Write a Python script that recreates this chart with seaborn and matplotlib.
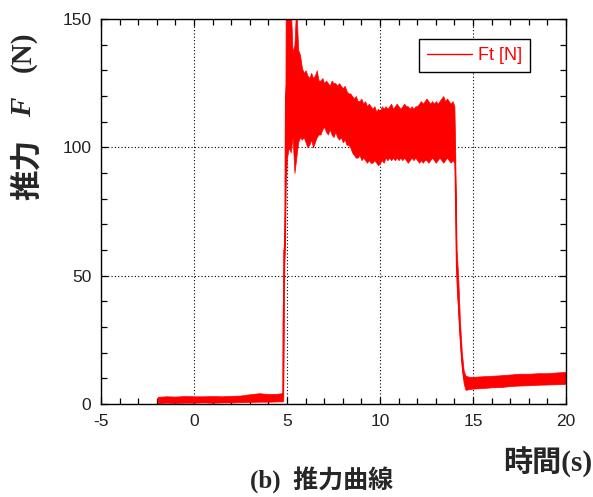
import numpy as np
import pandas as pd
import seaborn as sns
import matplotlib.pyplot as plt
from matplotlib.ticker import MultipleLocator

# Thrust record: time (s) with the low / high envelope of the measured force (N)
time_s = [
    -1.95, -1.5, -1.0, -0.5, 0.0, 0.5, 1.0, 1.5, 2.0, 2.5, 3.0, 3.5, 4.0, 4.5, 4.78,
    4.80, 4.86, 4.90, 4.93, 5.00, 5.10, 5.20, 5.30, 5.40, 5.50, 5.60, 5.70, 5.80, 5.90,
    6.0, 6.1, 6.2, 6.3, 6.4, 6.5, 6.6, 6.7, 6.8, 6.9,
    7.0, 7.1, 7.2, 7.3, 7.4, 7.5, 7.6, 7.7, 7.8, 7.9,
    8.0, 8.1, 8.2, 8.3, 8.4, 8.5, 8.6, 8.7, 8.8, 8.9,
    9.0, 9.1, 9.2, 9.3, 9.4, 9.5, 9.6, 9.7, 9.8, 9.9,
    10.0, 10.1, 10.2, 10.3, 10.4, 10.5, 10.6, 10.7, 10.8, 10.9,
    11.0, 11.1, 11.2, 11.3, 11.4, 11.5, 11.6, 11.7, 11.8, 11.9,
    12.0, 12.1, 12.2, 12.3, 12.4, 12.5, 12.6, 12.7, 12.8, 12.9,
    13.0, 13.1, 13.2, 13.3, 13.4, 13.5, 13.6, 13.7, 13.8, 13.9,
    14.00, 14.04, 14.08, 14.12, 14.20, 14.30, 14.40, 14.50, 14.60, 14.8,
    15.0, 15.5, 16.0, 16.5, 17.0, 17.5, 18.0, 18.5, 19.0, 19.5, 20.0,
]
thrust_low = [
    0.3, 0.5, 0.4, 0.5, 0.5, 0.6, 0.5, 0.6, 0.6, 0.7, 0.8, 0.9, 0.9, 1.0, 1.0,
    2, 55, 62, 84, 96, 100, 98, 104, 90, 96, 102, 104, 103, 104,
    102, 100, 101, 103, 100, 102, 104, 105, 105, 107,
    108, 106, 105, 107, 105, 104, 106, 104, 103, 104,
    102, 103, 101, 101, 100, 98, 97, 96, 96, 97,
    95, 96, 95, 94, 95, 94, 94, 95, 94, 93,
    94, 95, 94, 96, 95, 96, 95, 96, 95, 96,
    95, 96, 95, 96, 95, 94, 95, 96, 95, 96,
    95, 94, 95, 94, 95, 95, 94, 95, 96, 95,
    94, 95, 96, 95, 94, 95, 96, 95, 94, 95,
    94, 88, 62, 46, 36, 24, 14, 8, 5.5, 5.8,
    6.0, 6.2, 6.5, 6.6, 7.0, 7.2, 7.3, 7.5, 7.6, 7.7, 7.8,
]
thrust_high = [
    2.8, 3.0, 2.9, 3.1, 3.0, 3.0, 3.1, 3.0, 3.2, 3.3, 3.8, 4.2, 3.9, 4.0, 4.3,
    60, 62, 88, 156, 156, 152, 156, 137, 140, 156, 138, 136, 131, 129,
    130, 128, 127, 129, 127, 128, 130, 126, 126, 127,
    125, 126, 125, 124, 126, 125, 125, 124, 125, 124,
    123, 124, 122, 121, 121, 120, 119, 120, 118, 118,
    119, 117, 118, 116, 117, 116, 115, 116, 114, 115,
    114, 116, 115, 116, 115, 116, 117, 115, 116, 117,
    116, 115, 116, 117, 116, 116, 115, 116, 115, 116,
    116, 117, 118, 117, 118, 119, 118, 117, 118, 117,
    118, 117, 118, 119, 120, 118, 119, 118, 117, 118,
    116, 100, 80, 60, 50, 32, 20, 13, 11, 10.6,
    10.6, 10.8, 11.0, 11.2, 11.5, 11.8, 11.8, 12.0, 12.0, 12.3, 12.5,
]

x_ticks = [-5, 0, 5, 10, 15, 20]
y_ticks = [0, 50, 100, 150]

df = pd.DataFrame({"time": time_s, "low": thrust_low, "high": thrust_high})
df["mid"] = (df["low"] + df["high"]) / 2

sns.set_style("ticks", {
    "xtick.direction": "in",
    "ytick.direction": "in",
    "axes.edgecolor": "black",
})
plt.rcParams["font.family"] = ["Liberation Sans", "Noto Sans CJK JP"]
plt.rcParams["axes.unicode_minus"] = False

fig = plt.figure(figsize=(5.93, 4.97), dpi=100)
ax = fig.add_axes([101 / 593, 1 - 404 / 497, 465 / 593, 385 / 497])

red = "#ff0000"
# filled noise band of the thrust signal, drawn over the dotted grid
ax.fill_between(df["time"], df["low"], df["high"], facecolor=red,
                edgecolor=red, linewidth=0.5, zorder=3)
sns.lineplot(data=df, x="time", y="mid", ax=ax, color=red, linewidth=1.0,
             errorbar=None, label="Ft [N]", zorder=3.5)

ax.set_xlim(-5, 20)
ax.set_ylim(0, 150)
ax.set_xticks(x_ticks)
ax.set_yticks(y_ticks)
ax.xaxis.set_minor_locator(MultipleLocator(1))
ax.yaxis.set_minor_locator(MultipleLocator(10))
ax.tick_params(which="both", direction="in", top=True, right=True,
               width=0.9, color="black")
ax.tick_params(which="major", length=5, labelsize=12.5, pad=7,
               labelcolor="#222222")
ax.tick_params(which="minor", length=4)
for s in ax.spines.values():
    s.set_linewidth(1.0)
    s.set_color("black")
    s.set_zorder(5)
ax.grid(True, which="major", color="black", linestyle=(0, (1, 2)),
        linewidth=0.8, zorder=1)
ax.set_axisbelow(True)
ax.set_xlabel("")
ax.set_ylabel("")

leg = ax.legend(
    loc="upper right", bbox_to_anchor=((530 - 101) / 465, (404 - 39) / 385),
    borderaxespad=0, fontsize=13, labelcolor=red, fancybox=False,
    edgecolor="black", framealpha=1, handlelength=2.5, handletextpad=0.3,
    borderpad=0.45,
)
leg.get_frame().set_linewidth(1.0)
leg.set_zorder(6)

# Y-axis label assembled from three rotated pieces
fig.text(27 / 593, 1 - 170 / 497, "推力", rotation=90, ha="center", va="center",
         family="Noto Sans CJK JP", weight="bold", fontsize=22)
fig.text(24 / 593, 1 - 107 / 497, "F", rotation=90, ha="center", va="center",
         family="Liberation Serif", style="italic", weight="bold", fontsize=21)
fig.text(23 / 593, 1 - 52 / 497, "(N)", rotation=90, ha="center", va="center",
         family="Liberation Serif", weight="bold", fontsize=21)

# X-axis label and caption
fig.text(548 / 593, 1 - 462 / 497, "時間(s)", ha="center", va="center",
         family=["Liberation Serif", "Noto Sans CJK JP"], weight="bold",
         fontsize=21)
fig.text(322 / 593, 1 - 480 / 497, "(b)  推力曲線", ha="center", va="center",
         family=["Liberation Serif", "Noto Sans CJK JP"], weight="bold",
         fontsize=18)

fig.savefig("out.png", dpi=100)
